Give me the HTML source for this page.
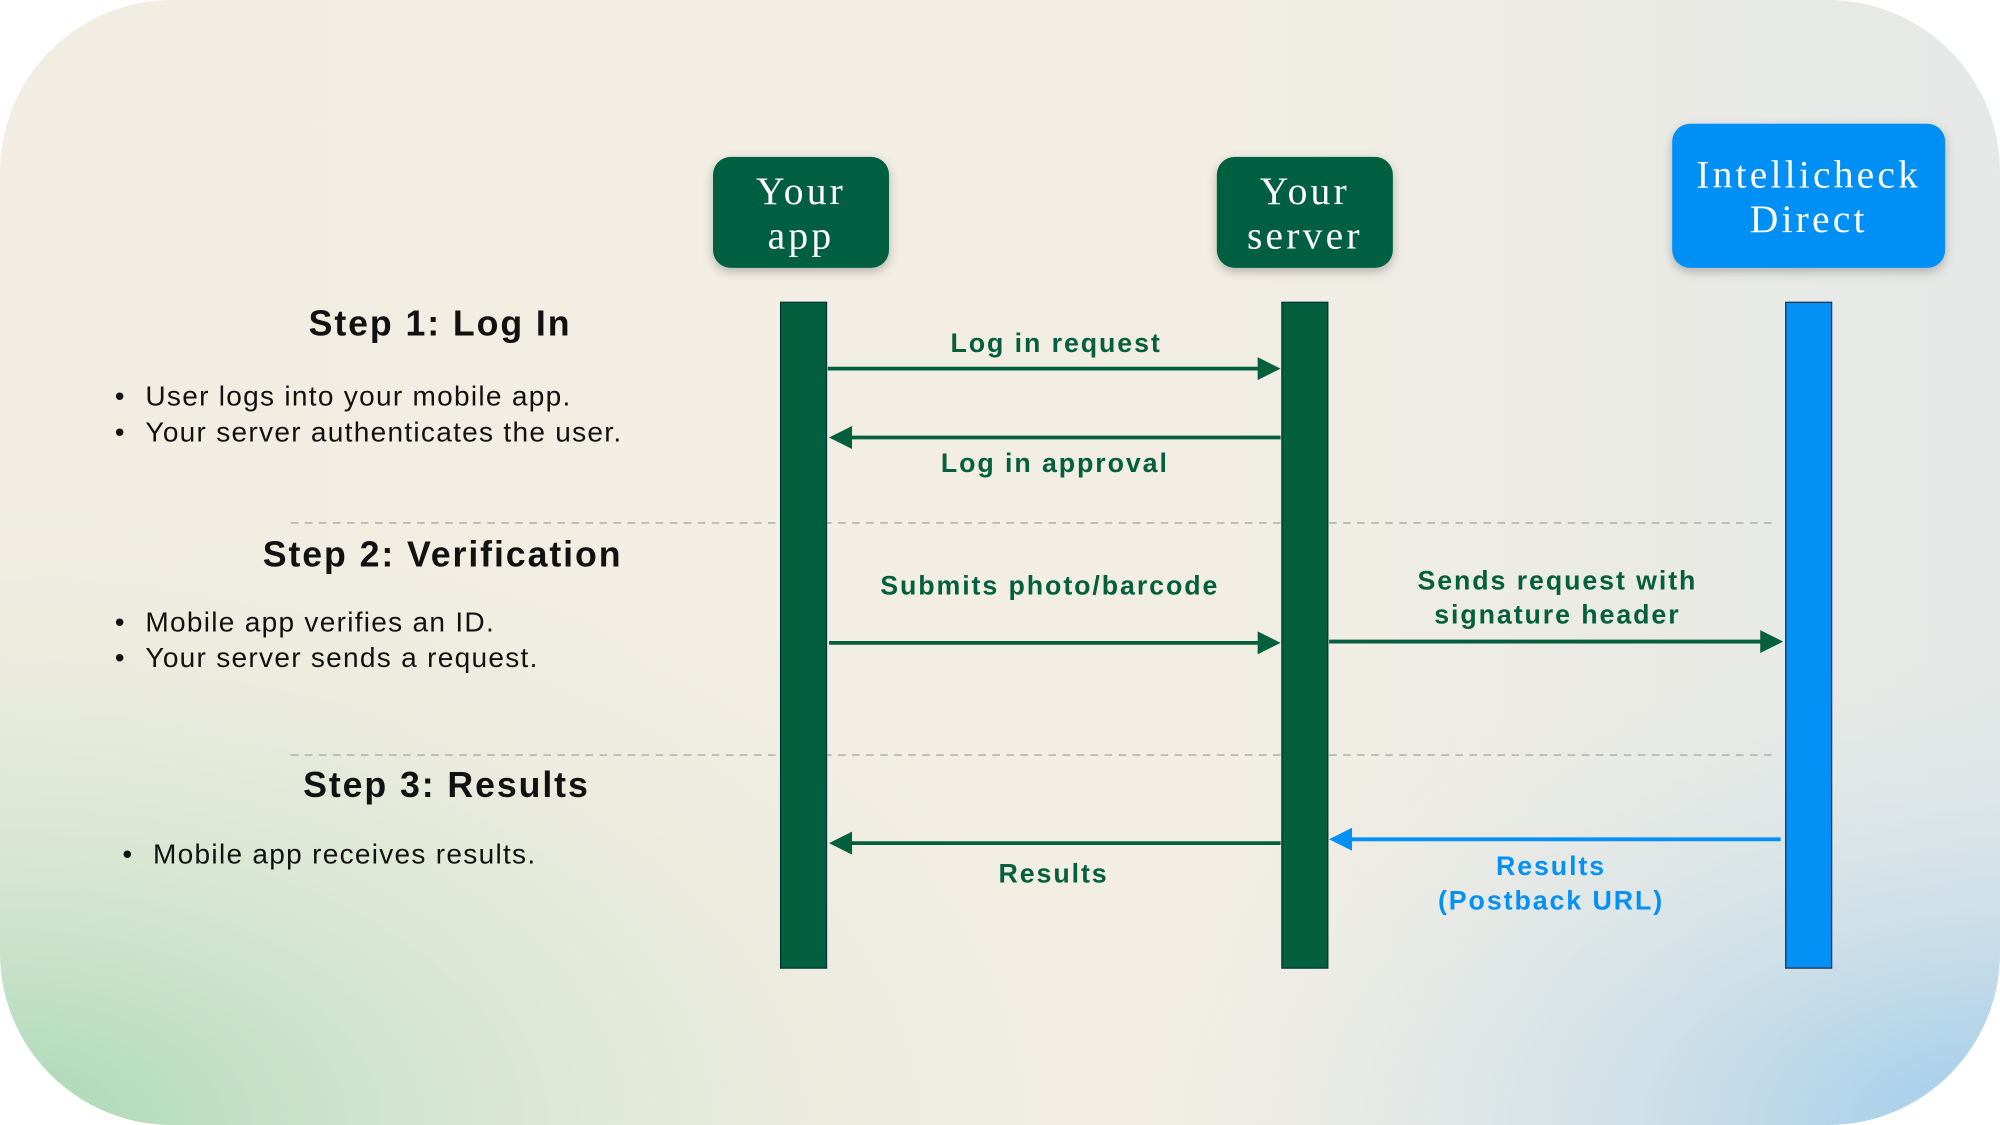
<!DOCTYPE html>
<html><head><style>html,body{margin:0;padding:0;background:#fff}svg{display:block}</style></head>
<body>
<svg width="2000" height="1125" viewBox="0 0 1568 882" xmlns="http://www.w3.org/2000/svg" font-family="Liberation Sans, sans-serif">
<defs>
<radialGradient id="g1" cx="0" cy="1" r="0.6"><stop offset="0" stop-color="#a6d9b4"/><stop offset="0.5" stop-color="#cfe3cc" stop-opacity="0.5"/><stop offset="1" stop-color="#f2ede2" stop-opacity="0"/></radialGradient>
<radialGradient id="g2" cx="1" cy="1" r="0.45"><stop offset="0" stop-color="#9ccbec"/><stop offset="1" stop-color="#e9ebe6" stop-opacity="0"/></radialGradient>
<linearGradient id="g0" x1="0" y1="0" x2="1" y2="0"><stop offset="0" stop-color="#f1ede2"/><stop offset="0.6" stop-color="#f2eee4"/><stop offset="1" stop-color="#e4e8e6"/></linearGradient>
<clipPath id="c"><rect x="0" y="0" width="1568" height="882" rx="135"/></clipPath>
<filter id="sh" x="-20%" y="-20%" width="140%" height="150%"><feDropShadow dx="0" dy="3" stdDeviation="4" flood-opacity="0.25"/></filter>
</defs>
<g clip-path="url(#c)">
<rect width="1568" height="882" fill="url(#g0)"/>
<rect width="1568" height="882" fill="url(#g1)"/>
<rect width="1568" height="882" fill="url(#g2)"/>
</g>
<g font-family="Liberation Serif, serif" font-size="31" fill="#fff" text-anchor="middle" letter-spacing="2.5">
<rect x="559" y="123" width="138" height="87" rx="14" fill="#045f3f" filter="url(#sh)"/>
<text x="628" y="160">Your</text><text x="628" y="195">app</text>
<rect x="954" y="123" width="138" height="87" rx="14" fill="#045f3f" filter="url(#sh)"/>
<text x="1023" y="160">Your</text><text x="1023" y="195">server</text>
<rect x="1311" y="97" width="214" height="113" rx="14" fill="#0590f5" filter="url(#sh)"/>
<text x="1418" y="147">Intellicheck</text><text x="1418" y="182">Direct</text>
</g>
<g stroke="#bbb" stroke-width="1.5" stroke-dasharray="6,5">
<line x1="228" y1="410" x2="1392" y2="410"/><line x1="228" y1="592" x2="1392" y2="592"/>
</g>
<rect x="612" y="237" width="36" height="522" fill="#045f3f" stroke="#033" stroke-width="1"/>
<rect x="1005" y="237" width="36" height="522" fill="#045f3f" stroke="#033" stroke-width="1"/>
<rect x="1400" y="237" width="36" height="522" fill="#0590f5" stroke="#1a3350" stroke-width="1"/>
<g stroke="#045f3f" stroke-width="3" fill="#045f3f">
<line x1="649" y1="289" x2="990" y2="289"/><polygon points="1004,289 986,280 986,298" stroke="none"/>
<line x1="665" y1="343" x2="1004" y2="343"/><polygon points="650,343 668,334 668,352" stroke="none"/>
<line x1="650" y1="504" x2="990" y2="504"/><polygon points="1004,504 986,495 986,513" stroke="none"/>
<line x1="1042" y1="503" x2="1383" y2="503"/><polygon points="1398,503 1380,494 1380,512" stroke="none"/>
<line x1="665" y1="661" x2="1004" y2="661"/><polygon points="650,661 668,652 668,670" stroke="none"/>
</g>
<g stroke="#0590f5" stroke-width="3" fill="#0590f5">
<line x1="1057" y1="658" x2="1396" y2="658"/><polygon points="1042,658 1060,649 1060,667" stroke="none"/>
</g>
<g font-size="21" font-weight="bold" fill="#045f3f" text-anchor="middle" letter-spacing="1.5">
<text x="828" y="276">Log in request</text>
<text x="827" y="370">Log in approval</text>
<text x="823" y="466">Submits photo/barcode</text>
<text x="1221" y="462">Sends request with</text>
<text x="1221" y="489">signature header</text>
<text x="826" y="692">Results</text>
<text x="1216" y="686" fill="#0590f5">Results</text>
<text x="1216" y="713" fill="#0590f5">(Postback URL)</text>
</g>
<g font-size="28" font-weight="bold" fill="#111" text-anchor="middle" letter-spacing="1.5">
<text x="345" y="263">Step 1: Log In</text>
<text x="347" y="444">Step 2: Verification</text>
<text x="350" y="625">Step 3: Results</text>
</g>
<g font-size="22" fill="#111" letter-spacing="1">
<text x="90" y="318">•</text><text x="114" y="318">User logs into your mobile app.</text>
<text x="90" y="346">•</text><text x="114" y="346">Your server authenticates the user.</text>
<text x="90" y="495">•</text><text x="114" y="495">Mobile app verifies an ID.</text>
<text x="90" y="523">•</text><text x="114" y="523">Your server sends a request.</text>
<text x="96" y="677">•</text><text x="120" y="677">Mobile app receives results.</text>
</g>
</svg>
</body></html>
